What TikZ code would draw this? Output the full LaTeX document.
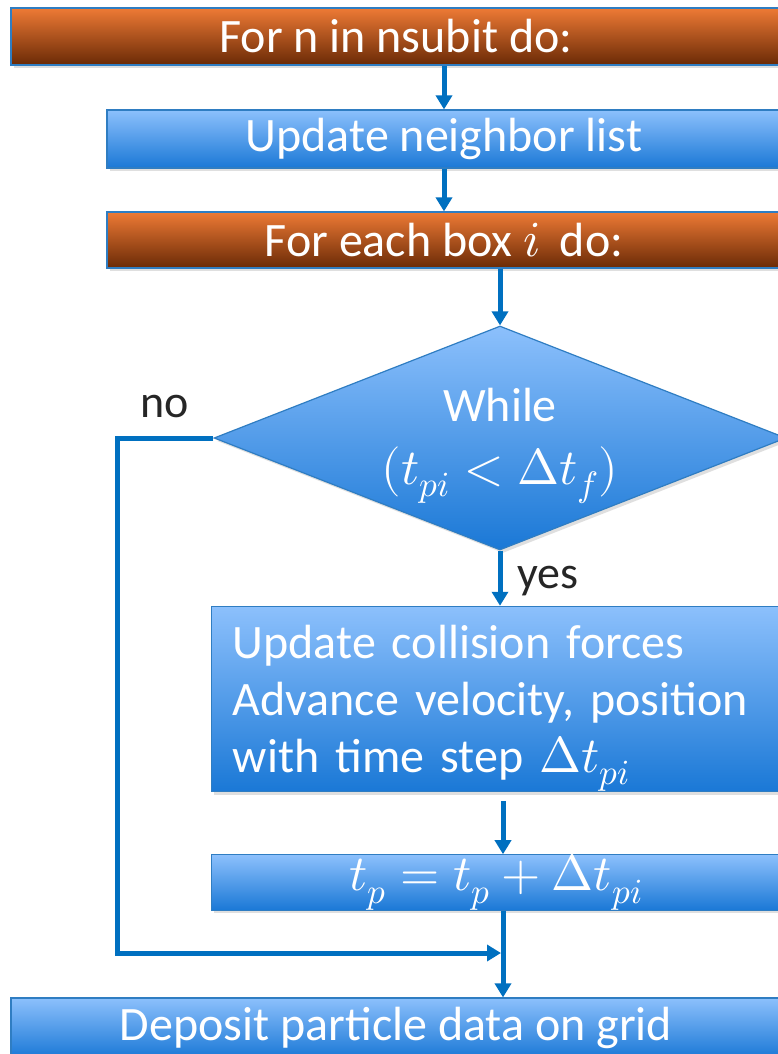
\documentclass[tikz,border=0pt]{standalone}
\usepackage{fontspec}
\usepackage{unicode-math}
\setmainfont{Carlito}
\setmathfont{Latin Modern Math}[Scale=1.05]
\usetikzlibrary{shapes.geometric,arrows.meta,shadows}
\definecolor{ortop}{HTML}{EE7A35}
\definecolor{orbot}{HTML}{6A2A06}
\definecolor{bltop}{HTML}{8CC0FC}
\definecolor{blbot}{HTML}{1A78D6}
\definecolor{edgec}{HTML}{2F7DC2}
\definecolor{arr}{HTML}{0070C0}
\definecolor{lbl}{HTML}{262626}
\begin{document}
\begin{tikzpicture}[x=1pt,y=-1pt,
  box/.style={draw=edgec,line width=1.2pt,inner sep=0pt,text=white,
    font=\fontsize{48}{57}\selectfont,
    drop shadow={opacity=0.25,shadow xshift=3pt,shadow yshift=-3pt}},
  orangebox/.style={box,top color=ortop,bottom color=orbot},
  bluebox/.style={box,top color=bltop,bottom color=blbot},
  intext/.style={text=white,align=center,font=\fontsize{48}{63}\selectfont},
  flow/.style={draw=arr,line width=5pt,-{Triangle[width=16pt,length=14pt]}},
  lab/.style={text=lbl,font=\fontsize{46}{52}\selectfont}]
\useasboundingbox (0,0) rectangle (778,1054);
\clip (0,0) rectangle (778,1054);
\fill[white] (0,0) rectangle (778,1054);

\node[orangebox, minimum width=770pt, minimum height=57pt] (b1) at (396,36.5) {For n in nsubit do:};
\node[bluebox, minimum width=674pt, minimum height=58pt] (b2) at (444,139) {Update neighbor list};
\node[orangebox, minimum width=674pt, minimum height=56pt] (b3) at (444,240) {For each box $i$\, do:};
\node[box, diamond, aspect=2.55, top color=bltop, bottom color=blbot,
  minimum width=572pt, minimum height=224pt,
  label={[intext,yshift=-8pt]center:While\\$(t_{pi}<\Delta t_f)$}] (d) at (500,438) {};
\node[bluebox, minimum width=569.5pt, minimum height=180pt, text width=526.5pt,
  inner xsep=21.5pt, align=left] (b4) at (496,699)
  {\rule{0pt}{52pt}Update collision forces\\Advance velocity, position\\with time step $\Delta t_{pi}$};
\node[bluebox, minimum width=569.5pt, minimum height=55pt] (b5) at (496,882.5) {$t_p=t_p+\Delta t_{pi}$};
\node[bluebox, minimum width=770pt, minimum height=60pt] (b6) at (396,1028) {Deposit particle data on grid};

\node[lab] (no) at (165,407) {no};
\node[lab] (yes) at (548,581) {yes};

\coordinate (m) at (503,953);
\coordinate (c) at (117,953);

\draw[flow] (b1.south -| b2.north) -- (b2.north);
\draw[flow] (b2.south) -- (b3.north);
\draw[flow] (b3.south -| d.north) -- (d.north);
\draw[flow] (d.south) -- (d.south |- b4.north);
\draw[flow, shorten <=9pt] (b4.south -| m) -- (b5.north -| m);
\draw[flow] (b5.south -| m) -- (b6.north -| m);
\draw[flow, shorten >=2pt] (d.west) -| (c) -- (m);
\end{tikzpicture}
\end{document}
